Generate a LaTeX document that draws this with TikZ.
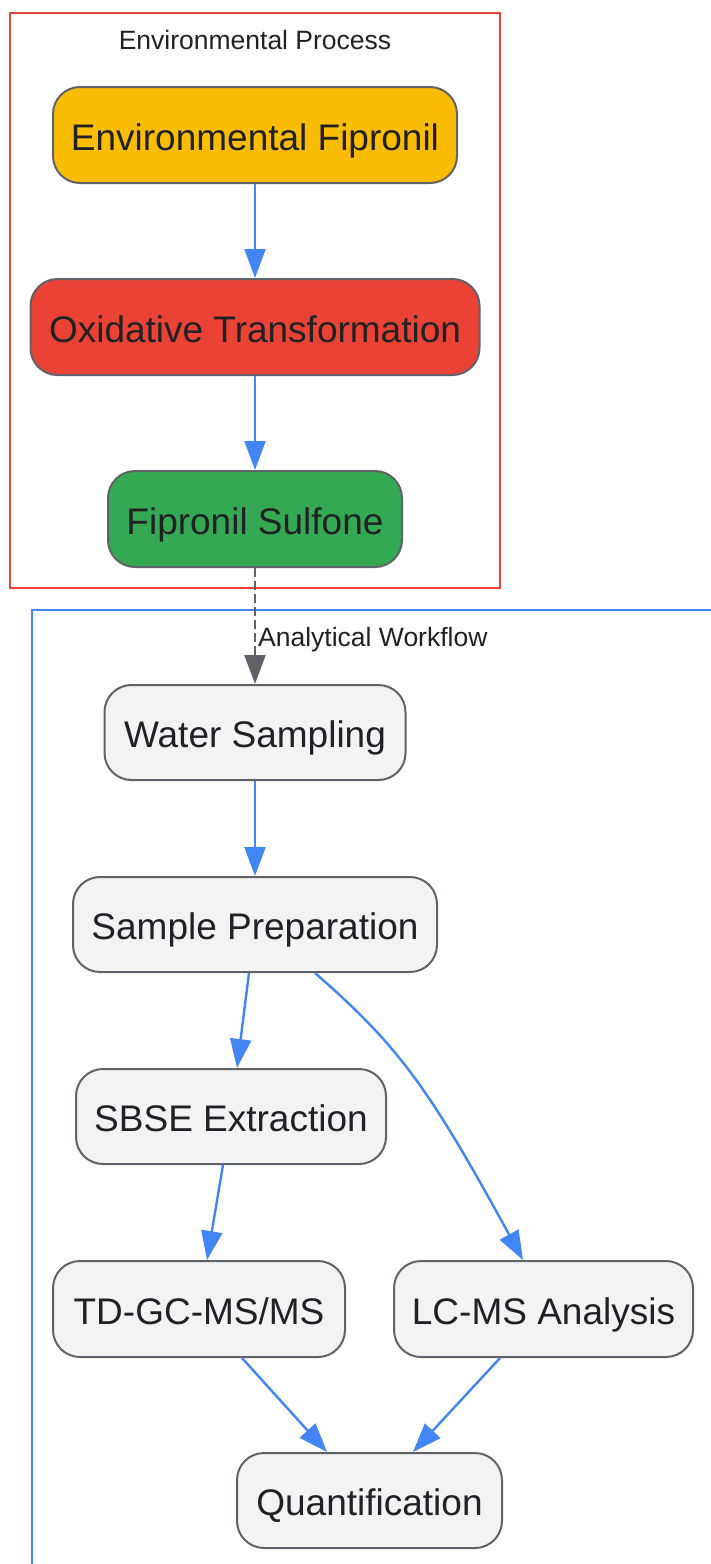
\documentclass[tikz,border=0pt]{standalone}
\usepackage{fontspec}
\setmainfont{Liberation Sans}
\usetikzlibrary{arrows.meta,calc}
\definecolor{gyellow}{HTML}{FBBC04}
\definecolor{gred}{HTML}{EA4335}
\definecolor{ggreen}{HTML}{34A853}
\definecolor{gblue}{HTML}{4285F4}
\definecolor{ggray}{HTML}{F1F3F4}
\definecolor{gborder}{HTML}{5F6368}
\definecolor{gtext}{HTML}{202124}
\tikzset{
  box/.style={draw=gborder, line width=2pt, rounded corners=27pt, minimum height=96pt,
    inner sep=0pt, text=gtext, font=\fontsize{37}{40}\selectfont,
    text height=30.6pt, text depth=0pt},
  clusterlabel/.style={text=gtext, font=\fontsize{26.5}{30}\selectfont, inner sep=0pt},
  flow/.style={draw=gblue, line width=2.4pt, -{Triangle[length=29pt,width=21pt]}},
  dflow/.style={draw=gborder, line width=2.4pt, dash pattern=on 9pt off 4pt,
    -{Triangle[length=29pt,width=21pt]}},
}
\begin{document}
\begin{tikzpicture}[x=1pt,y=-1pt]
\useasboundingbox (0,0) rectangle (710,1564);
% clusters
\draw[gred, line width=2.4pt] (10,13) rectangle (500,588);
\node[clusterlabel] (envlabel) at (255,40) {Environmental Process};
\draw[gblue, line width=2.4pt] (32,1570) -- (32,610) -- (715,610);
\node[clusterlabel, anchor=west] (anlabel) at (258,639.5) {Analytical Workflow};
% nodes
\node[box, fill=gyellow, minimum width=404pt] (EF) at (255,135) {Environmental Fipronil};
\node[box, fill=gred, minimum width=449pt] (OT) at (255,327) {Oxidative Transformation};
\node[box, fill=ggreen, minimum width=294pt] (FS) at (255,519) {Fipronil Sulfone};
\node[box, fill=ggray, minimum width=301pt, minimum height=95pt] (WS) at (255,732.5) {Water Sampling};
\node[box, fill=ggray, minimum width=364pt, minimum height=95pt] (SP) at (255,924.5) {Sample Preparation};
\node[box, fill=ggray, minimum width=310pt, minimum height=95pt] (SB) at (231,1116.5) {SBSE Extraction};
\node[box, fill=ggray, minimum width=292pt] (TD) at (199,1309) {TD-GC-MS/MS};
\node[box, fill=ggray, minimum width=299pt] (LC) at (543.5,1309) {LC-MS Analysis};
\node[box, fill=ggray, minimum width=265pt, minimum height=95pt] (Q) at (369.5,1500.5) {Quantification};
% edges
\draw[flow] (EF.south) -- (OT.north);
\draw[flow] (OT.south) -- (FS.north);
\draw[dflow] (FS.south) -- (WS.north);
\draw[flow] (WS.south) -- (SP.north);
\draw[flow] ($(SP.south)+(-6,0)$) -- ($(SB.north)+(6,0)$);
\draw[flow] ($(SB.south)+(-8,0)$) -- ($(TD.north)+(8,0)$);
\draw[flow] ($(SP.south)+(60,0)$) .. controls (400,1047) and (430,1090) .. ($(LC.north)+(-20.5,0)$);
\draw[flow] ($(TD.south)+(43,0)$) -- ($(Q.north)+(-42.5,0)$);
\draw[flow] ($(LC.south)+(-43.5,0)$) -- ($(Q.north)+(43.5,0)$);
\end{tikzpicture}
\end{document}
